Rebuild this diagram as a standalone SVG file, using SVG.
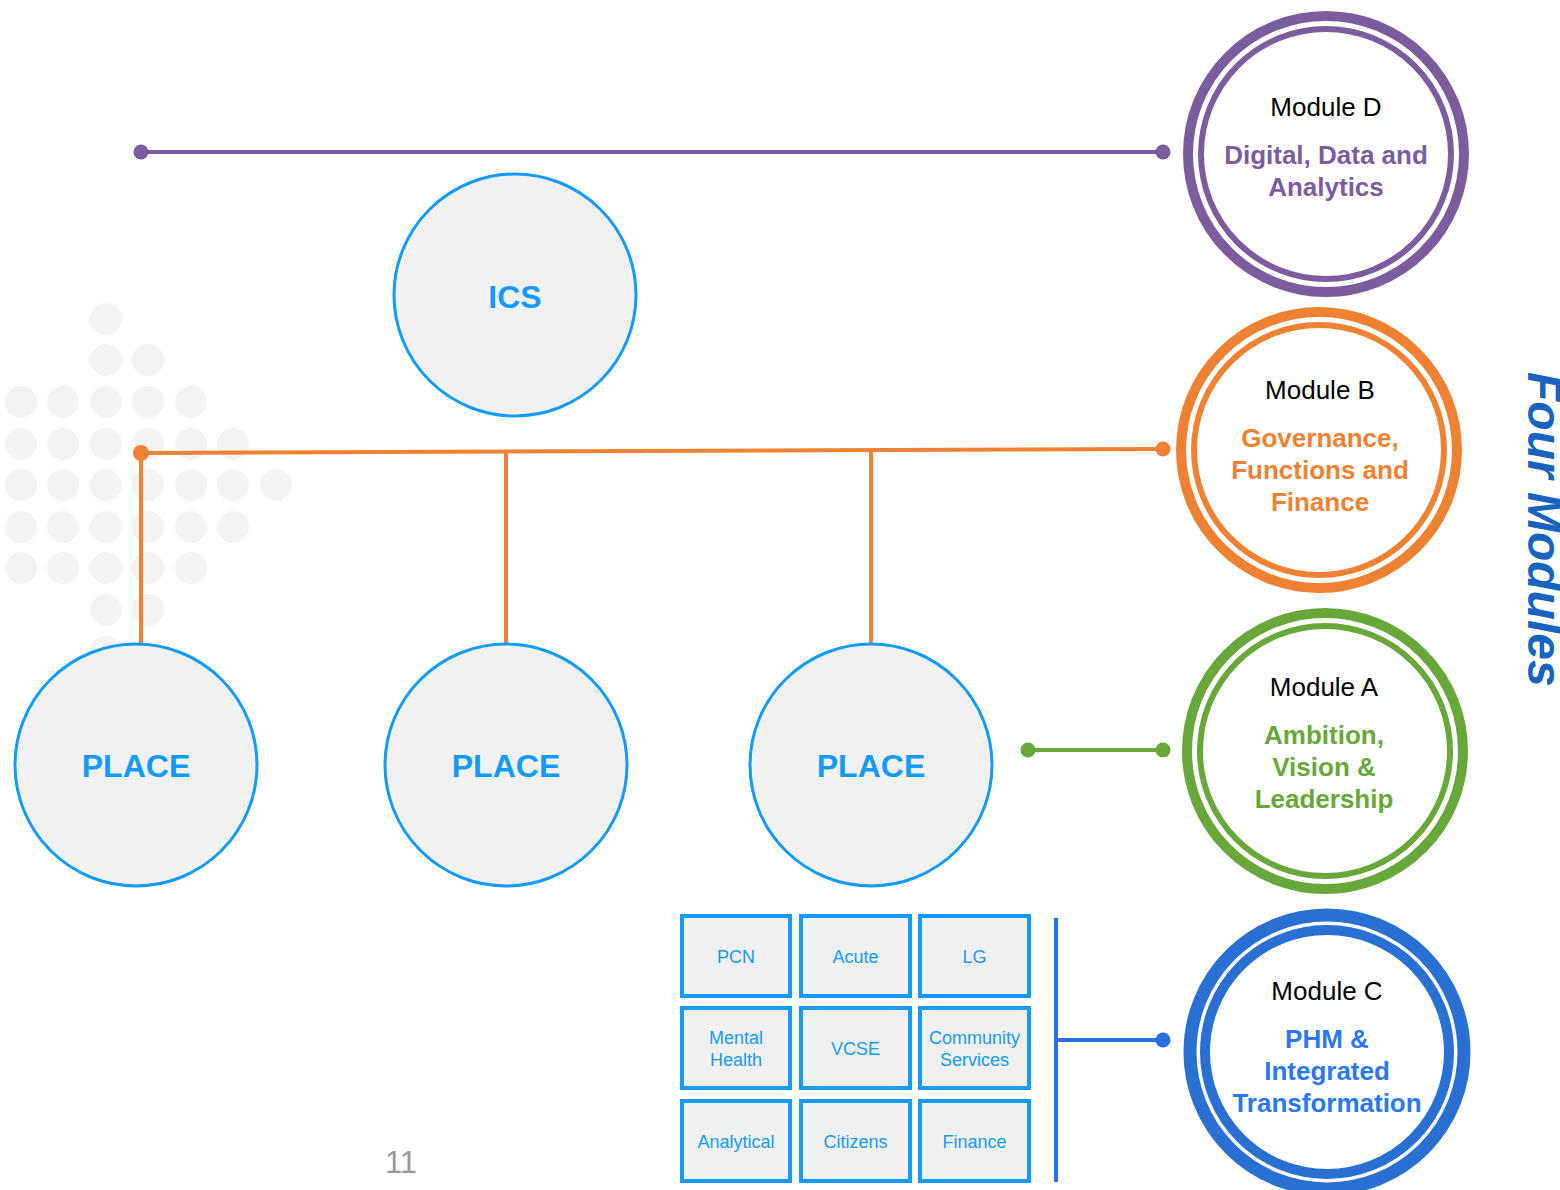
<svg xmlns="http://www.w3.org/2000/svg" width="1560" height="1190" viewBox="0 0 1560 1190">
  <style>
    text { font-family: "Liberation Sans", Arial, sans-serif; }
    .bg-dot { fill: #f4f4f4; }
    .entity { fill: #f1f1f1; stroke: #149bf8; stroke-width: 3; }
    .entity-label { fill: #149bf8; font-weight: bold; font-size: 32px; text-anchor: middle; }
    .cell { fill: #f0f0f0; stroke: #149bf8; stroke-width: 4; }
    .cell-label { fill: #149bf8; font-size: 18px; text-anchor: middle; }
    .mod-title { fill: #000; font-size: 26px; text-anchor: middle; }
    .mod-name { font-size: 26px; font-weight: bold; text-anchor: middle; }
    .ring { fill: none; }
    .link { fill: none; stroke-width: 4; }
  </style>

  <rect width="1560" height="1190" fill="#ffffff"/>

  <!-- background dot pattern -->
  <g id="dot-pattern">
    <circle class="bg-dot" cx="106" cy="319" r="16"/>
    <circle class="bg-dot" cx="106" cy="360" r="16"/>
    <circle class="bg-dot" cx="148" cy="360" r="16"/>
    <circle class="bg-dot" cx="21" cy="402" r="16"/>
    <circle class="bg-dot" cx="63" cy="402" r="16"/>
    <circle class="bg-dot" cx="106" cy="402" r="16"/>
    <circle class="bg-dot" cx="148" cy="402" r="16"/>
    <circle class="bg-dot" cx="191" cy="402" r="16"/>
    <circle class="bg-dot" cx="21" cy="444" r="16"/>
    <circle class="bg-dot" cx="63" cy="444" r="16"/>
    <circle class="bg-dot" cx="106" cy="444" r="16"/>
    <circle class="bg-dot" cx="148" cy="444" r="16"/>
    <circle class="bg-dot" cx="191" cy="444" r="16"/>
    <circle class="bg-dot" cx="233" cy="444" r="16"/>
    <circle class="bg-dot" cx="21" cy="485" r="16"/>
    <circle class="bg-dot" cx="63" cy="485" r="16"/>
    <circle class="bg-dot" cx="106" cy="485" r="16"/>
    <circle class="bg-dot" cx="148" cy="485" r="16"/>
    <circle class="bg-dot" cx="191" cy="485" r="16"/>
    <circle class="bg-dot" cx="233" cy="485" r="16"/>
    <circle class="bg-dot" cx="276" cy="485" r="16"/>
    <circle class="bg-dot" cx="21" cy="527" r="16"/>
    <circle class="bg-dot" cx="63" cy="527" r="16"/>
    <circle class="bg-dot" cx="106" cy="527" r="16"/>
    <circle class="bg-dot" cx="148" cy="527" r="16"/>
    <circle class="bg-dot" cx="191" cy="527" r="16"/>
    <circle class="bg-dot" cx="233" cy="527" r="16"/>
    <circle class="bg-dot" cx="21" cy="568" r="16"/>
    <circle class="bg-dot" cx="63" cy="568" r="16"/>
    <circle class="bg-dot" cx="106" cy="568" r="16"/>
    <circle class="bg-dot" cx="148" cy="568" r="16"/>
    <circle class="bg-dot" cx="191" cy="568" r="16"/>
    <circle class="bg-dot" cx="106" cy="610" r="16"/>
    <circle class="bg-dot" cx="148" cy="610" r="16"/>
    <circle class="bg-dot" cx="106" cy="652" r="16"/>
  </g>

  <!-- connectors -->
  <g id="connectors">
    <!-- Module D bus -->
    <line class="link" x1="141" y1="152" x2="1163" y2="152" stroke="#7b5c9c"/>
    <circle cx="141" cy="152" r="7.5" fill="#7b5c9c"/>
    <circle cx="1163" cy="152" r="7.5" fill="#7b5c9c"/>
    <!-- Module B bus and drops to places -->
    <line class="link" x1="141" y1="453" x2="1163" y2="449" stroke="#ef8232"/>
    <line class="link" x1="141" y1="453" x2="141" y2="645" stroke="#ef8232"/>
    <line class="link" x1="506" y1="452" x2="506" y2="645" stroke="#ef8232"/>
    <line class="link" x1="871" y1="451" x2="871" y2="645" stroke="#ef8232"/>
    <circle cx="141" cy="453" r="8" fill="#ef8232"/>
    <circle cx="1163" cy="449" r="7.5" fill="#ef8232"/>
    <!-- Module A link -->
    <line class="link" x1="1028" y1="750" x2="1163" y2="750" stroke="#68a83a"/>
    <circle cx="1028" cy="750" r="7.5" fill="#68a83a"/>
    <circle cx="1163" cy="750" r="7.5" fill="#68a83a"/>
    <!-- Module C bracket -->
    <line class="link" x1="1056" y1="918" x2="1056" y2="1182" stroke="#2a6fe6"/>
    <line class="link" x1="1056" y1="1040" x2="1163" y2="1040" stroke="#2a6fe6"/>
    <circle cx="1163" cy="1040" r="7.5" fill="#2a6fe6"/>
  </g>

  <!-- ICS and places -->
  <g id="ics">
    <circle class="entity" cx="515" cy="295" r="121"/>
    <text class="entity-label" x="515" y="308">ICS</text>
  </g>
  <g id="place-1">
    <circle class="entity" cx="136" cy="765" r="121"/>
    <text class="entity-label" x="136" y="777">PLACE</text>
  </g>
  <g id="place-2">
    <circle class="entity" cx="506" cy="765" r="121"/>
    <text class="entity-label" x="506" y="777">PLACE</text>
  </g>
  <g id="place-3">
    <circle class="entity" cx="871" cy="765" r="121"/>
    <text class="entity-label" x="871" y="777">PLACE</text>
  </g>

  <!-- partner grid -->
  <g id="cell-pcn">
    <rect class="cell" x="682" y="916" width="108" height="80"/>
    <text class="cell-label" x="736" y="963">PCN</text>
  </g>
  <g id="cell-acute">
    <rect class="cell" x="801" y="916" width="109" height="80"/>
    <text class="cell-label" x="855.5" y="963">Acute</text>
  </g>
  <g id="cell-lg">
    <rect class="cell" x="920" y="916" width="109" height="80"/>
    <text class="cell-label" x="974.5" y="963">LG</text>
  </g>
  <g id="cell-mental-health">
    <rect class="cell" x="682" y="1008" width="108" height="80"/>
    <text class="cell-label" x="736" y="1044">Mental</text>
    <text class="cell-label" x="736" y="1066">Health</text>
  </g>
  <g id="cell-vcse">
    <rect class="cell" x="801" y="1008" width="109" height="80"/>
    <text class="cell-label" x="855.5" y="1055">VCSE</text>
  </g>
  <g id="cell-community-services">
    <rect class="cell" x="920" y="1008" width="109" height="80"/>
    <text class="cell-label" x="974.5" y="1044">Community</text>
    <text class="cell-label" x="974.5" y="1066">Services</text>
  </g>
  <g id="cell-analytical">
    <rect class="cell" x="682" y="1101" width="108" height="80"/>
    <text class="cell-label" x="736" y="1148">Analytical</text>
  </g>
  <g id="cell-citizens">
    <rect class="cell" x="801" y="1101" width="109" height="80"/>
    <text class="cell-label" x="855.5" y="1148">Citizens</text>
  </g>
  <g id="cell-finance">
    <rect class="cell" x="920" y="1101" width="109" height="80"/>
    <text class="cell-label" x="974.5" y="1148">Finance</text>
  </g>

  <!-- modules -->
  <g id="module-d">
    <circle cx="1326" cy="154" r="139" fill="#ffffff"/>
    <circle class="ring" cx="1326" cy="154" r="138" stroke="#7b5c9c" stroke-width="10"/>
    <circle class="ring" cx="1326" cy="154" r="125" stroke="#7b5c9c" stroke-width="6"/>
    <text class="mod-title" x="1326" y="116">Module D</text>
    <text class="mod-name" x="1326" y="164" fill="#7b5c9c">Digital, Data and</text>
    <text class="mod-name" x="1326" y="196" fill="#7b5c9c">Analytics</text>
  </g>
  <g id="module-b">
    <circle cx="1319" cy="450" r="139" fill="#ffffff"/>
    <circle class="ring" cx="1319" cy="450" r="138" stroke="#ef8232" stroke-width="10"/>
    <circle class="ring" cx="1319" cy="450" r="125" stroke="#ef8232" stroke-width="6"/>
    <text class="mod-title" x="1320" y="399">Module B</text>
    <text class="mod-name" x="1320" y="447" fill="#ef8232">Governance,</text>
    <text class="mod-name" x="1320" y="479" fill="#ef8232">Functions and</text>
    <text class="mod-name" x="1320" y="511" fill="#ef8232">Finance</text>
  </g>
  <g id="module-a">
    <circle cx="1325" cy="751" r="139" fill="#ffffff"/>
    <circle class="ring" cx="1325" cy="751" r="138" stroke="#68a83a" stroke-width="10"/>
    <circle class="ring" cx="1325" cy="751" r="125" stroke="#68a83a" stroke-width="6"/>
    <text class="mod-title" x="1324" y="696">Module A</text>
    <text class="mod-name" x="1324" y="744" fill="#68a83a">Ambition,</text>
    <text class="mod-name" x="1324" y="776" fill="#68a83a">Vision &amp;</text>
    <text class="mod-name" x="1324" y="808" fill="#68a83a">Leadership</text>
  </g>
  <g id="module-c">
    <circle cx="1327" cy="1052" r="139" fill="#ffffff"/>
    <circle class="ring" cx="1327" cy="1052" r="137" stroke="#2a6fd2" stroke-width="13"/>
    <circle class="ring" cx="1327" cy="1052" r="122" stroke="#2a6fd2" stroke-width="10"/>
    <text class="mod-title" x="1327" y="1000">Module C</text>
    <text class="mod-name" x="1327" y="1048" fill="#2a78f5">PHM &amp;</text>
    <text class="mod-name" x="1327" y="1080" fill="#2a78f5">Integrated</text>
    <text class="mod-name" x="1327" y="1112" fill="#2a78f5">Transformation</text>
  </g>

  <!-- side title -->
  <text id="title" transform="translate(1528 372) rotate(90)" font-size="48" font-weight="bold" font-style="italic" fill="#1763bf">Four Modules</text>

  <!-- page number -->
  <text id="page-number" x="401" y="1173" font-size="31" fill="#9a9a9a" text-anchor="middle">11</text>
</svg>
